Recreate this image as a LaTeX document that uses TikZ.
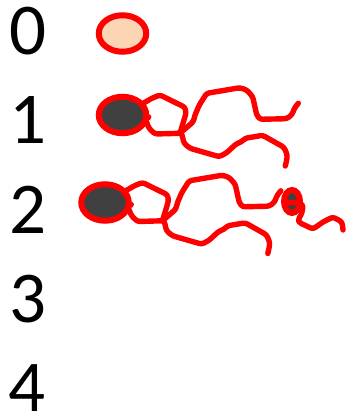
\documentclass[tikz,border=0pt]{standalone}
\usepackage{fontspec}
\setmainfont{Carlito}
\usetikzlibrary{shapes.geometric}
\definecolor{chainred}{RGB}{255,0,0}
\definecolor{headfill}{RGB}{252,213,181}
\definecolor{headdark}{RGB}{64,64,64}
\tikzset{
  levellabel/.style={font=\fontsize{73}{73}\selectfont, text=black, inner sep=0pt, anchor=center},
  headbody/.style={ellipse, draw=chainred, line width=6pt, minimum width=47.5pt, minimum height=36.5pt, inner sep=0pt},
  tailline/.style={draw=chainred, line width=5.4pt, line join=round, line cap=round, rounded corners=2.5pt},
  budbody/.style={ellipse, draw=chainred, fill=headdark, line width=6pt, minimum width=16pt, minimum height=23pt, inner sep=0pt}
}
% Ring and two side chains, drawn relative to the centre of the head ellipse
\newcommand{\ringchains}[1]{%
  \begin{scope}[shift={(#1)}]
    \coordinate (junction) at (57.5,18.3);
    \draw[tailline] (20.8,-11.7) -- (29.2,-16.7) -- (37.5,-20) -- (62.5,-7.7) -- (63.5,-1.7) -- (junction) -- (32.5,19) -- (26.5,13.3) -- (23.2,5) -- (20.8,1.7);
    \draw[tailline] (junction) -- (70.8,6.7) -- (72.5,0) -- (76.8,-10) -- (84.2,-21.7) -- (117.5,-27.3) -- (124.2,-25) -- (130.2,-18.3) -- (134.2,0) -- (137.5,4.3) -- (164.2,3.7) -- (169.2,0) -- (172.5,-7.7) -- (175.8,-11.7);
    \draw[tailline] (junction) -- (59.2,18.3) -- (61.5,28.3) -- (67.5,33.3) -- (96.8,41.7) -- (104.2,37.7) -- (113.5,29) -- (119.2,26.7) -- (122.5,23.3) -- (140.2,20.3) -- (161.5,32.3) -- (164.8,40) -- (164.2,45) -- (162.8,51);
  \end{scope}}
\begin{document}
\begin{tikzpicture}[x=1pt,y=-1pt]
  \useasboundingbox (0,0) rectangle (349,415);
  % Level numbers
  \node[levellabel] (n0) at (27.5,31) {0};
  \node[levellabel] (n1) at (28,120.5) {1};
  \node[levellabel] (n2) at (28,210) {2};
  \node[levellabel] (n3) at (27.7,299) {3};
  \node[levellabel] (n4) at (27,388) {4};
  % Level 0
  \node[headbody, fill=headfill] (h0) at (122.5,33.5) {};
  % Level 1
  \ringchains{122.5,115}
  \node[headbody, fill=headdark] (h1) at (122.5,115) {};
  \draw[tailline] (h1.east) ++(-1.5,3) -- ++(1,-1);
  % Level 2
  \ringchains{105,202.5}
  \node[headbody, fill=headdark] (h2) at (105,202.5) {};
  \draw[tailline] (h2.east) ++(-1.5,3) -- ++(1,-1);
  \node[budbody] (bud) at (292,201.5) {};
  \draw[tailline] (bud.center) ++(-5,1.5) -- ++(11,-1) -- (303,205) -- (302,213) -- (298,220) -- (300,223) -- (313,229) -- (323,222) -- (333,217) -- (342,222) -- (343,230);
\end{tikzpicture}
\end{document}
